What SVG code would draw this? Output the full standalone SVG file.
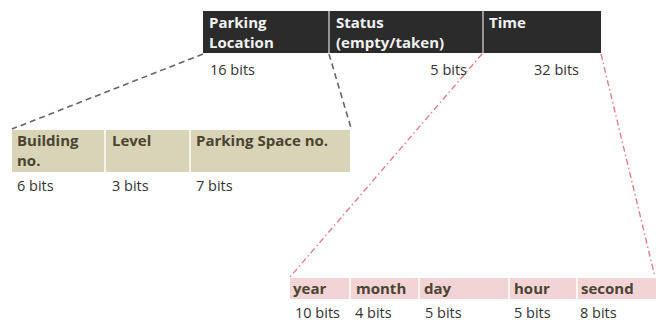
<svg xmlns="http://www.w3.org/2000/svg" width="656" height="323" viewBox="0 0 656 323">
<style>
.h{font-family:"Open Sans","Liberation Sans",sans-serif;font-weight:bold;font-size:15px}
.w{fill:#f2f2f2}
.d{fill:#4a4430}
.b{font-family:"Open Sans","Liberation Sans",sans-serif;font-size:14.5px;fill:#333}
.g{stroke:#666;stroke-width:1.6;stroke-dasharray:6,4;fill:none}
.r{stroke:#e07f88;stroke-width:1.4;stroke-dasharray:6,3,1.5,3;fill:none}
</style>
<rect width="656" height="323" fill="#fff"/>
<g id="connectors">
<line class="g" x1="203" y1="54" x2="12" y2="129"/>
<line class="g" x1="329" y1="54" x2="351" y2="128"/>
<line class="r" x1="482" y1="54" x2="290" y2="277"/>
<line class="r" x1="601" y1="54" x2="655" y2="277"/>
</g>
<g id="top">
<rect x="203" y="11" width="398" height="42" fill="#2b2b2b"/>
<line x1="329" y1="11" x2="329" y2="53" stroke="#bbb" stroke-width="1.5"/>
<line x1="483" y1="11" x2="483" y2="53" stroke="#bbb" stroke-width="1.5"/>
<text class="h w" x="209" y="28">Parking</text>
<text class="h w" x="209" y="48">Location</text>
<text class="h w" x="336" y="28">Status</text>
<text class="h w" x="336" y="48">(empty/taken)</text>
<text class="h w" x="489" y="28">Time</text>
<text class="b" x="210" y="75">16 bits</text>
<text class="b" x="467" y="75" text-anchor="end">5 bits</text>
<text class="b" x="579" y="75" text-anchor="end">32 bits</text>
</g>
<g id="location">
<rect x="12" y="130" width="338" height="42" fill="#d9d3b8"/>
<line x1="105" y1="130" x2="105" y2="172" stroke="#fff" stroke-width="1.5"/>
<line x1="190" y1="130" x2="190" y2="172" stroke="#fff" stroke-width="1.5"/>
<text class="h d" x="17" y="146">Building</text>
<text class="h d" x="17" y="166">no.</text>
<text class="h d" x="112" y="146">Level</text>
<text class="h d" x="196" y="146">Parking Space no.</text>
<text class="b" x="17" y="191">6 bits</text>
<text class="b" x="112" y="191">3 bits</text>
<text class="b" x="196" y="191">7 bits</text>
</g>
<g id="time">
<rect x="290" y="278" width="366" height="21" fill="#f2d4d6"/>
<line x1="350" y1="278" x2="350" y2="299" stroke="#fff" stroke-width="1.5"/>
<line x1="419" y1="278" x2="419" y2="299" stroke="#fff" stroke-width="1.5"/>
<line x1="509" y1="278" x2="509" y2="299" stroke="#fff" stroke-width="1.5"/>
<line x1="577" y1="278" x2="577" y2="299" stroke="#fff" stroke-width="1.5"/>
<text class="h d" x="293" y="294">year</text>
<text class="h d" x="356" y="294">month</text>
<text class="h d" x="424" y="294">day</text>
<text class="h d" x="514" y="294">hour</text>
<text class="h d" x="581" y="294">second</text>
<text class="b" x="295" y="318">10 bits</text>
<text class="b" x="355" y="318">4 bits</text>
<text class="b" x="425" y="318">5 bits</text>
<text class="b" x="514" y="318">5 bits</text>
<text class="b" x="580" y="318">8 bits</text>
</g>
</svg>
